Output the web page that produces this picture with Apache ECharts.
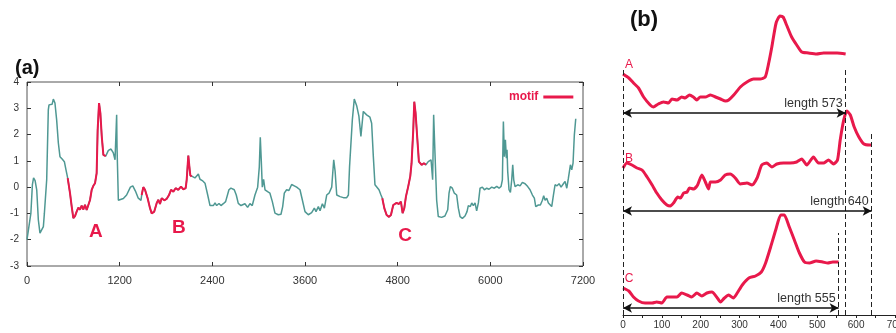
<!DOCTYPE html>
<html>
<head>
<meta charset="utf-8">
<script src="https://cdn.jsdelivr.net/npm/echarts@6/dist/echarts.min.js"></script>
<style>
  html, body { margin: 0; padding: 0; background: #fff; }
  #main { width: 896px; height: 333px; }
</style>
</head>
<body>
<div id="main"></div>
<script>
// (a) whole time series
const timeStamps = [0,17,50,70,85,105,126,147,168,190,212,225,242,255,276,285,310,325,341,362,384,406,427,458,484,505,527,557,579,600,622,643,665,686,708,730,751,773,794,816,838,859,881,902,915,933,950,968,989,1019,1054,1088,1118,1140,1161,1166,1183,1205,1248,1290,1339,1370,1404,1441,1476,1485,1506,1528,1562,1593,1615,1648,1679,1701,1722,1744,1778,1808,1839,1865,1895,1925,1959,1994,2024,2055,2068,2089,2102,2115,2132,2175,2219,2240,2270,2305,2340,2370,2413,2435,2456,2486,2512,2542,2572,2615,2641,2684,2710,2736,2771,2822,2857,2887,2917,2952,2987,3008,3021,3034,3047,3064,3082,3116,3146,3177,3211,3254,3289,3311,3332,3362,3392,3427,3461,3492,3535,3565,3600,3643,3686,3721,3743,3773,3795,3825,3851,3881,3911,3946,3972,3990,4011,4054,4097,4140,4162,4177,4196,4213,4238,4269,4298,4324,4341,4355,4376,4398,4441,4463,4485,4506,4528,4558,4584,4601,4627,4657,4687,4713,4743,4765,4786,4816,4842,4864,4886,4907,4937,4963,4980,5002,5015,5032,5054,5075,5110,5140,5166,5196,5232,5253,5266,5283,5305,5326,5369,5412,5448,5465,5482,5508,5534,5564,5586,5608,5638,5672,5698,5715,5741,5759,5780,5802,5823,5845,5867,5897,5923,5953,5983,6018,6052,6083,6113,6139,6156,6169,6182,6195,6208,6216,6225,6242,6260,6277,6290,6303,6320,6355,6385,6415,6450,6484,6514,6545,6570,6588,6622,6648,6674,6691,6709,6730,6752,6773,6795,6817,6838,6864,6890,6916,6946,6968,6990,7011,7037,7054,7071,7088,7106];
const values = [-2.0,-2.05,-1.0,0.1,0.35,0.25,-0.1,-1.25,-1.75,-1.82,-1.5,-1.0,-0.95,0.28,2.94,3.13,3.18,3.15,3.35,3.2,2.56,1.68,1.16,1.06,0.97,0.66,0.34,-0.23,-0.74,-1.18,-1.1,-0.93,-0.78,-0.86,-0.7,-0.85,-0.67,-0.87,-0.9,-0.49,-0.1,0.05,0.15,0.53,2.18,3.2,2.82,1.93,1.23,1.18,1.4,1.45,1.3,1.04,2.75,1.5,-0.5,-0.45,-0.43,-0.3,0.0,0.05,-0.15,-0.42,-0.5,-0.3,0.0,-0.1,-0.42,-0.8,-1.0,-0.93,-0.61,-0.48,-0.64,-0.42,-0.5,-0.45,-0.3,-0.1,-0.17,-0.04,-0.1,0.02,-0.08,-0.04,0.28,1.2,0.8,0.45,0.4,0.35,0.5,0.3,0.25,0.15,-0.3,-0.7,-0.7,-0.6,-0.7,-0.62,-0.7,-0.63,-0.55,-0.1,-0.04,-0.1,-0.3,-0.62,-0.7,-0.63,-0.77,-0.63,-0.7,-0.3,0.0,0.76,1.9,1.0,0.0,0.3,-0.1,-0.17,-0.23,-0.55,-0.99,-1.05,-1.03,-0.74,-0.23,-0.1,-0.13,0.1,0.05,0.0,-0.1,-0.48,-0.93,-1.05,-0.97,-0.8,-0.93,-0.74,-0.9,-0.63,-0.8,-0.3,-0.23,0.0,1.04,0.6,-0.3,-0.36,-0.4,-0.4,-0.3,0.78,0.85,2.56,3.35,3.1,2.7,1.93,1.86,2.88,2.82,2.75,2.66,2.43,1.16,0.09,0.03,-0.1,-0.3,-0.42,-0.8,-1.06,-1.13,-1.06,-0.68,-0.74,-0.6,-0.64,-0.55,-0.99,-0.8,-0.36,0.03,0.41,0.91,2.18,3.25,2.82,1.86,0.97,0.85,0.91,0.85,0.97,1.04,0.28,2.75,1.3,-0.5,-1.12,-1.15,-1.1,-0.86,-0.23,0.02,-0.04,-0.23,-0.3,-0.8,-1.12,-1.19,-1.1,-0.93,-0.7,-0.74,-0.6,-0.7,-0.6,-0.9,-0.6,-0.04,0.0,-0.1,-0.04,-0.08,0.0,-0.04,0.03,-0.04,0.03,0.28,2.5,1.16,1.8,1.1,1.42,0.6,-0.1,-0.2,0.28,0.85,0.28,0.02,0.09,0.05,0.18,0.13,0.02,-0.1,-0.3,-0.42,-0.74,-0.68,-0.68,-0.5,-0.33,-0.5,-0.42,-0.6,-0.55,-0.74,-0.3,0.09,0.05,0.13,0.0,0.13,0.22,-0.04,0.34,0.85,0.66,0.91,1.99,2.6];

// motif positions in the series (start, end)
const motifNames = ['A', 'B', 'C'];
const motifRanges = [[527, 1019], [1485, 2132], [4601, 5166]];
const motifLabelAt = [[893, -1.7], [1968, -1.55], [4895, -1.86]];

// (b) the three motifs, offset from motif start and level above their arrow
const motifA_x = [0,15,27,40,53,70,78,91,104,117,126,139,151,160,171,181,190,199,212,225,238,251,264,272,285,302,319,336,353,366,375,383,394,404,412,421,434,447,460,477,498,516,533,551,573];
const motifA_y = [3.9,3.5,3.0,2.5,1.6,0.8,0.6,0.9,1.1,1.0,1.4,1.3,1.6,1.5,1.8,1.6,1.3,1.6,1.6,1.8,1.6,1.4,1.2,1.3,1.8,2.6,3.1,3.4,3.4,3.6,5.0,6.6,9.0,9.7,9.6,8.8,7.6,6.8,6.1,6.0,5.9,6.0,6.0,6.0,5.9];
const motifB_x = [0,10,23,36,49,62,75,87,100,113,122,130,141,148,156,165,171,182,192,203,212,220,225,238,251,263,276,289,302,319,332,345,357,370,383,396,413,430,447,460,473,490,503,516,529,542,552,559,568,576,585,595,607,620,635,640];
const motifB_y = [4.3,4.8,4.6,4.3,4.1,3.4,2.6,1.8,1.1,0.6,0.5,0.8,1.4,1.3,1.8,1.9,2.3,2.2,2.6,3.6,2.9,2.2,2.9,2.9,3.1,3.6,3.7,3.3,2.7,2.8,2.6,3.3,4.6,4.8,4.4,4.7,4.8,4.8,4.9,5.2,4.6,5.4,4.8,4.8,5.1,4.7,5.1,7.1,9.1,10.0,9.6,8.4,7.4,6.7,6.6,6.6];
const motifC_x = [0,15,27,40,57,75,87,100,113,126,139,151,165,177,190,203,216,229,241,251,261,272,284,294,307,324,341,356,367,380,393,406,415,428,441,454,467,480,497,514,527,540,555];
const motifC_y = [2.0,1.7,1.1,0.7,0.5,0.5,0.6,0.5,1.1,1.1,1.1,1.5,1.3,1.1,1.5,1.2,1.5,1.6,1.1,0.6,1.0,1.3,1.0,1.5,2.3,3.0,3.2,3.6,4.5,6.1,7.8,9.3,9.3,8.1,6.8,5.5,4.6,4.5,4.7,4.6,4.5,4.6,4.6];
const motifLengths = [573, 640, 555];

const teal = '#4f9893';
const red = '#e8194b';
const font = 'Liberation Sans, Arial, sans-serif';

// stacking of the three motifs in panel (b)
const arrowLevels = [20.2, 10.4, 0.7];
const dashTops = [24.8, 18.2, 8.2];

const chart = echarts.init(document.getElementById('main'), null, { renderer: 'canvas' });

const pairs = timeStamps.map((t, i) => [t, values[i]]);
const bCurves = [[motifA_x, motifA_y], [motifB_x, motifB_y], [motifC_x, motifC_y]];

const series = [{
  type: 'line', name: 'series', xAxisIndex: 0, yAxisIndex: 0,
  data: pairs, showSymbol: false, silent: true,
  lineStyle: { color: teal, width: 1.5 }, itemStyle: { color: teal }
}];

motifRanges.forEach((r, k) => {
  series.push({
    type: 'line', name: 'motif', xAxisIndex: 0, yAxisIndex: 0,
    data: pairs.filter(p => p[0] >= r[0] && p[0] <= r[1]),
    showSymbol: false, silent: true, z: 3,
    lineStyle: { color: red, width: 2 }, itemStyle: { color: red },
    markPoint: {
      symbolSize: 0, silent: true,
      data: [{ coord: motifLabelAt[k] }],
      label: { show: true, position: 'inside', formatter: motifNames[k],
        color: red, fontSize: 19, fontWeight: 'bold', fontFamily: font }
    }
  })
});

bCurves.forEach(([xs, ys], k) => {
  series.push({
    type: 'line', name: motifNames[k], xAxisIndex: 2, yAxisIndex: 2,
    data: xs.map((x, i) => [x, ys[i] + arrowLevels[k]]),
    showSymbol: false, silent: true, smooth: 0.2,
    lineStyle: { color: red, width: 3 }, itemStyle: { color: red },
    markPoint: {
      symbolSize: 0, silent: true,
      data: [{ coord: [0, ys[0] + arrowLevels[k]] }],
      label: { show: true, position: 'top', offset: [6, 2], formatter: motifNames[k],
        color: red, fontSize: 12, fontFamily: font }
    }
  })
});

// dashed guides
const dashLines = [[{ coord: [0, 0] }, { coord: [0, dashTops[0]] }]];
motifLengths.forEach((L, k) => dashLines.push([{ coord: [L, 0] }, { coord: [L, dashTops[k]] }]));
series.push({
  type: 'line', xAxisIndex: 2, yAxisIndex: 2, data: [], silent: true,
  markLine: {
    symbol: 'none', silent: true, animation: false,
    lineStyle: { type: [5, 3], color: '#222', width: 1 },
    label: { show: false },
    data: dashLines
  }
});

// length arrows
series.push({
  type: 'line', xAxisIndex: 2, yAxisIndex: 2, data: [], silent: true,
  markLine: {
    symbol: ['arrow', 'arrow'], symbolSize: [7, 9], silent: true, animation: false,
    lineStyle: { type: 'solid', color: '#111', width: 1.6 },
    data: motifLengths.map((L, k) => [
      { coord: [0, arrowLevels[k]] },
      { coord: [L, arrowLevels[k]],
        label: { show: true, position: 'insideEndTop', formatter: 'length ' + L,
          distance: 3, color: '#333', fontSize: 12.5, fontFamily: font } }
    ])
  }
});

const labelStyle = { color: '#333', fontSize: 10, fontFamily: font, formatter: v => String(v) };
const tick = { inside: true, length: 4, lineStyle: { color: '#333' } };

chart.setOption({
  animation: false,
  backgroundColor: '#fff',
  title: [
    { text: '(a)', left: 10, top: 53, textStyle: { fontSize: 20, fontWeight: 'bold', color: '#111', fontFamily: font } },
    { text: '(b)', left: 625, top: 4, textStyle: { fontSize: 22, fontWeight: 'bold', color: '#111', fontFamily: font } }
  ],
  legend: {
    data: ['motif'], left: 504, top: 86, align: 'right', icon: 'rect',
    itemWidth: 30, itemHeight: 3, selectedMode: false,
    textStyle: { color: red, fontWeight: 'bold', fontSize: 12, fontFamily: font }
  },
  grid: [
    { left: 27, top: 82, width: 556, height: 184, show: true, borderColor: '#555', borderWidth: 1, outerBoundsMode: 'none' },
    { left: 623, top: 5, width: 272, height: 310, outerBoundsMode: 'none' }
  ],
  xAxis: [
    { type: 'value', gridIndex: 0, min: 0, max: 7200, interval: 1200,
      axisLine: { show: false, onZero: false }, splitLine: { show: false },
      axisTick: tick,
      axisLabel: Object.assign({}, labelStyle, { margin: 9, fontSize: 11 }) },
    { type: 'value', gridIndex: 0, position: 'top', min: 0, max: 7200, interval: 1200,
      axisLine: { show: false, onZero: false }, splitLine: { show: false },
      axisTick: tick, axisLabel: { show: false } },
    { type: 'value', gridIndex: 1, min: 0, max: 700, interval: 100,
      axisLine: { show: true, onZero: false, lineStyle: { color: '#222', width: 1 } },
      splitLine: { show: false },
      axisTick: { show: true, length: 3, lineStyle: { color: '#222' } },
      minorTick: { show: true, splitNumber: 2, length: 3, lineStyle: { color: '#222' } },
      axisLabel: Object.assign({ margin: 5, showMaxLabel: true }, labelStyle) }
  ],
  yAxis: [
    { type: 'value', gridIndex: 0, min: -3, max: 4, interval: 1,
      axisLine: { show: false, onZero: false }, splitLine: { show: false },
      axisTick: tick,
      axisLabel: Object.assign({ margin: 8 }, labelStyle) },
    { type: 'value', gridIndex: 0, position: 'right', min: -3, max: 4, interval: 1,
      axisLine: { show: false, onZero: false }, splitLine: { show: false },
      axisTick: tick, axisLabel: { show: false } },
    { type: 'value', gridIndex: 1, min: 0, max: 31, show: false, splitLine: { show: false } }
  ],
  series
});
</script>
</body>
</html>
